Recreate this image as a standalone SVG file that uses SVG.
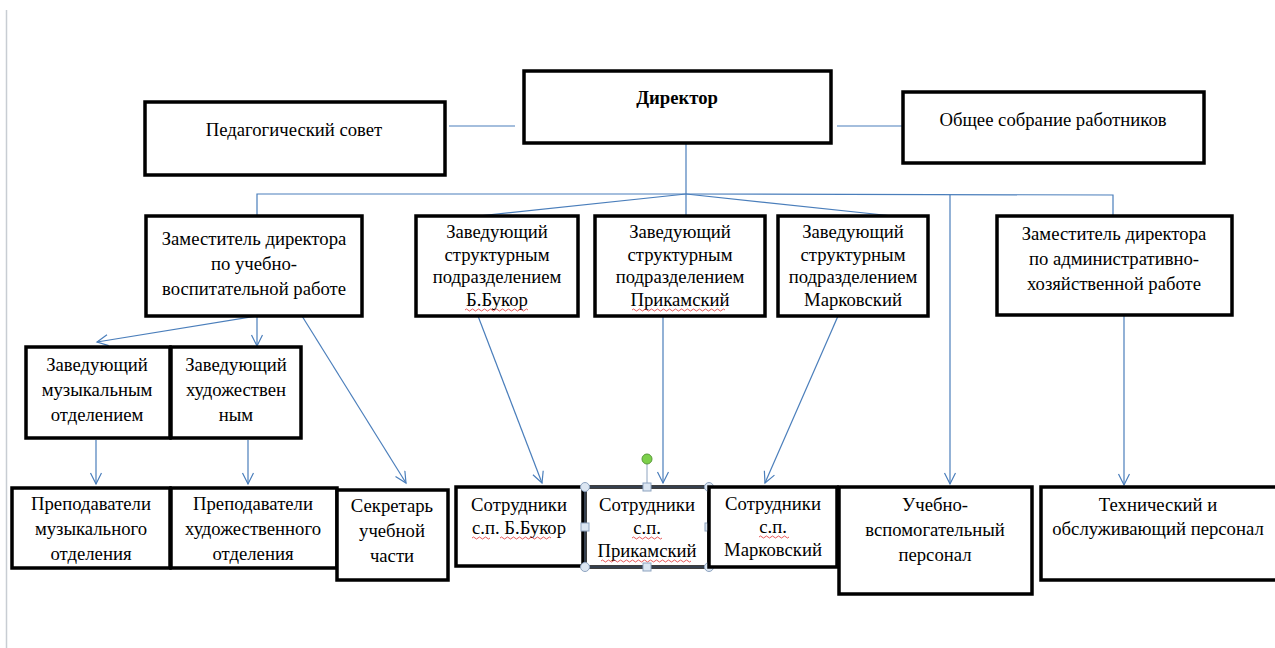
<svg xmlns="http://www.w3.org/2000/svg" width="1275" height="648" viewBox="0 0 1275 648">
<style>
.box{fill:#fff;stroke:#000;stroke-width:3.5}
.t{font-family:"Liberation Serif","Times New Roman",serif;font-size:18.7px;fill:#000;text-anchor:middle}
.b{font-weight:bold}
.c{stroke:#4a7ebb;stroke-width:1.2;fill:none}
.sq{stroke:#e03030;stroke-width:0.8;fill:none}
.h{fill:#dce6f2;stroke:#8ea4c0;stroke-width:1}
</style>
<defs>
<marker id="ar" markerUnits="userSpaceOnUse" markerWidth="14" markerHeight="14" refX="12" refY="6" orient="auto">
<path d="M1,0.5 L12,6 L1,11.5" fill="none" stroke="#4a7ebb" stroke-width="1.2"/>
</marker>
</defs>
<rect width="1275" height="648" fill="#fff"/>
<line x1="6.5" y1="10" x2="6.5" y2="648" stroke="#c8cdd3" stroke-width="1.5"/>

<g id="connectors">
<line class="c" x1="449" y1="126" x2="515" y2="126"/>
<line class="c" x1="837" y1="126" x2="903" y2="126"/>
<line class="c" x1="686" y1="143" x2="686" y2="216"/>
<polyline class="c" points="257,216 257,194 686,194 1113,195 1113,216"/>
<line class="c" x1="686" y1="194" x2="478" y2="216"/>
<line class="c" x1="686" y1="194" x2="893" y2="216"/>
<line class="c" x1="950" y1="195" x2="950" y2="484" marker-end="url(#ar)"/>
<line class="c" x1="257" y1="316" x2="97" y2="342" marker-end="url(#ar)"/>
<line class="c" x1="257" y1="316" x2="257" y2="346" marker-end="url(#ar)"/>
<line class="c" x1="302" y1="316" x2="406" y2="483" marker-end="url(#ar)"/>
<line class="c" x1="96" y1="440" x2="96" y2="484" marker-end="url(#ar)"/>
<line class="c" x1="248" y1="440" x2="248" y2="484" marker-end="url(#ar)"/>
<line class="c" x1="478" y1="316" x2="542" y2="483" marker-end="url(#ar)"/>
<line class="c" x1="663" y1="316" x2="663" y2="483" marker-end="url(#ar)"/>
<line class="c" x1="838" y1="316" x2="765" y2="483" marker-end="url(#ar)"/>
<line class="c" x1="1124" y1="316" x2="1124" y2="485" marker-end="url(#ar)"/>
</g>

<g id="ped">
<rect class="box" x="145" y="102" width="300" height="73"/>
<text class="t" x="294" y="136">Педагогический совет</text>
</g>
<g id="dir">
<rect class="box" x="524" y="71" width="307" height="72"/>
<text class="t b" x="677" y="104">Директор</text>
</g>
<g id="obsh">
<rect class="box" x="903" y="92" width="301" height="71"/>
<text class="t" x="1053" y="126">Общее собрание работников</text>
</g>

<g id="zam-uvr">
<rect class="box" x="146" y="216" width="216" height="100"/>
<text class="t" x="254" y="245">Заместитель директора</text>
<text class="t" x="254" y="270">по учебно-</text>
<text class="t" x="254" y="295">воспитательной работе</text>
</g>
<g id="zav-bukor">
<rect class="box" x="416" y="216" width="162" height="100"/>
<text class="t" x="497" y="238">Заведующий</text>
<text class="t" x="497" y="261">структурным</text>
<text class="t" x="497" y="283">подразделением</text>
<text class="t" x="497" y="306">Б.Букор</text>
<path class="sq" d="M465,310 q1.5,-2 3,0 t3,0 t3,0 t3,0 t3,0 t3,0 t3,0 t3,0 t3,0 t3,0 t3,0 t3,0 t3,0 t3,0 t3,0 t3,0 t3,0 t3,0 t3,0 t3,0 t3,0"/>
</g>
<g id="zav-prikam">
<rect class="box" x="595" y="216" width="170" height="100"/>
<text class="t" x="680" y="238">Заведующий</text>
<text class="t" x="680" y="261">структурным</text>
<text class="t" x="680" y="283">подразделением</text>
<text class="t" x="680" y="306">Прикамский</text>
<path class="sq" d="M632,310 q1.5,-2 3,0 t3,0 t3,0 t3,0 t3,0 t3,0 t3,0 t3,0 t3,0 t3,0 t3,0 t3,0 t3,0 t3,0 t3,0 t3,0 t3,0 t3,0 t3,0 t3,0 t3,0 t3,0 t3,0 t3,0 t3,0 t3,0 t3,0 t3,0 t3,0 t3,0 t3,0"/>
</g>
<g id="zav-markov">
<rect class="box" x="778" y="216" width="150" height="100"/>
<text class="t" x="853" y="238">Заведующий</text>
<text class="t" x="853" y="261">структурным</text>
<text class="t" x="853" y="283">подразделением</text>
<text class="t" x="853" y="306">Марковский</text>
</g>
<g id="zam-ahr">
<rect class="box" x="997" y="216" width="235" height="99"/>
<text class="t" x="1114" y="240">Заместитель директора</text>
<text class="t" x="1114" y="265">по административно-</text>
<text class="t" x="1114" y="290">хозяйственной работе</text>
</g>

<g id="zav-muz">
<rect class="box" x="26" y="347" width="144" height="91"/>
<text class="t" x="97" y="371">Заведующий</text>
<text class="t" x="97" y="396">музыкальным</text>
<text class="t" x="97" y="421">отделением</text>
</g>
<g id="zav-hud">
<rect class="box" x="171" y="347" width="130" height="91"/>
<text class="t" x="236" y="371">Заведующий</text>
<text class="t" x="236" y="396">художествен</text>
<text class="t" x="236" y="421">ным</text>
</g>

<g id="prep-muz">
<rect class="box" x="12" y="488" width="158" height="80"/>
<text class="t" x="91" y="510">Преподаватели</text>
<text class="t" x="91" y="535">музыкального</text>
<text class="t" x="91" y="560">отделения</text>
</g>
<g id="prep-hud">
<rect class="box" x="171" y="488" width="166" height="80"/>
<text class="t" x="253" y="510">Преподаватели</text>
<text class="t" x="253" y="535">художественного</text>
<text class="t" x="253" y="560">отделения</text>
</g>
<g id="sekr">
<rect class="box" x="337" y="490" width="111" height="90"/>
<text class="t" x="392" y="512">Секретарь</text>
<text class="t" x="392" y="537">учебной</text>
<text class="t" x="392" y="562">части</text>
</g>
<g id="sotr-bukor">
<rect class="box" x="456" y="487" width="127" height="79"/>
<text class="t" x="519" y="511">Сотрудники</text>
<text class="t" x="519" y="534">с.п.  Б.Букор</text>
<path class="sq" d="M472,538 q1.5,-2 3,0 t3,0 t3,0 t3,0 t3,0 t3,0"/>
<path class="sq" d="M500,538 q1.5,-2 3,0 t3,0 t3,0 t3,0 t3,0 t3,0 t3,0 t3,0 t3,0 t3,0 t3,0 t3,0 t3,0 t3,0 t3,0 t3,0 t3,0"/>
</g>
<g id="sotr-prikam">
<rect class="box" x="585" y="487" width="124" height="80"/>
<text class="t" x="647" y="511">Сотрудники</text>
<text class="t" x="647" y="534">с.п.</text>
<text class="t" x="647" y="557">Прикамский</text>
<path class="sq" d="M632,538 q1.5,-2 3,0 t3,0 t3,0 t3,0 t3,0 t3,0 t3,0 t3,0 t3,0 t3,0"/>
<path class="sq" d="M601,561 q1.5,-2 3,0 t3,0 t3,0 t3,0 t3,0 t3,0 t3,0 t3,0 t3,0 t3,0 t3,0 t3,0 t3,0 t3,0 t3,0 t3,0 t3,0 t3,0 t3,0 t3,0 t3,0 t3,0 t3,0 t3,0 t3,0 t3,0 t3,0 t3,0 t3,0 t3,0"/>
<line x1="647" y1="460" x2="647" y2="487" stroke="#8ea4c0" stroke-width="1"/>
<rect x="585" y="487" width="124" height="80" fill="none" stroke="#6a7f99" stroke-width="1"/>
<circle cx="647" cy="459" r="5" fill="#7cd04a" stroke="#5a9a3a" stroke-width="1"/>
<circle class="h" cx="585" cy="487" r="4.5"/>
<circle class="h" cx="709" cy="487" r="4.5"/>
<circle class="h" cx="585" cy="567" r="4.5"/>
<circle class="h" cx="709" cy="567" r="4.5"/>
<rect class="h" x="643" y="483" width="8" height="8"/>
<rect class="h" x="643" y="563" width="8" height="8"/>
<rect class="h" x="581" y="523" width="8" height="8"/>
<rect class="h" x="705" y="523" width="8" height="8"/>
</g>
<g id="sotr-markov">
<rect class="box" x="709" y="487" width="128" height="80"/>
<text class="t" x="773" y="510">Сотрудники</text>
<text class="t" x="773" y="533">с.п.</text>
<text class="t" x="773" y="556">Марковский</text>
<path class="sq" d="M759,537 q1.5,-2 3,0 t3,0 t3,0 t3,0 t3,0 t3,0 t3,0 t3,0 t3,0 t3,0"/>
</g>
<g id="uch-vsp">
<rect class="box" x="839" y="487" width="193" height="107"/>
<text class="t" x="935" y="511">Учебно-</text>
<text class="t" x="935" y="536">вспомогательный</text>
<text class="t" x="935" y="561">персонал</text>
</g>
<g id="tech">
<rect class="box" x="1041" y="487" width="245" height="93"/>
<text class="t" x="1158" y="511">Технический и</text>
<text class="t" x="1158" y="535">обслуживающий персонал</text>
</g>
</svg>
